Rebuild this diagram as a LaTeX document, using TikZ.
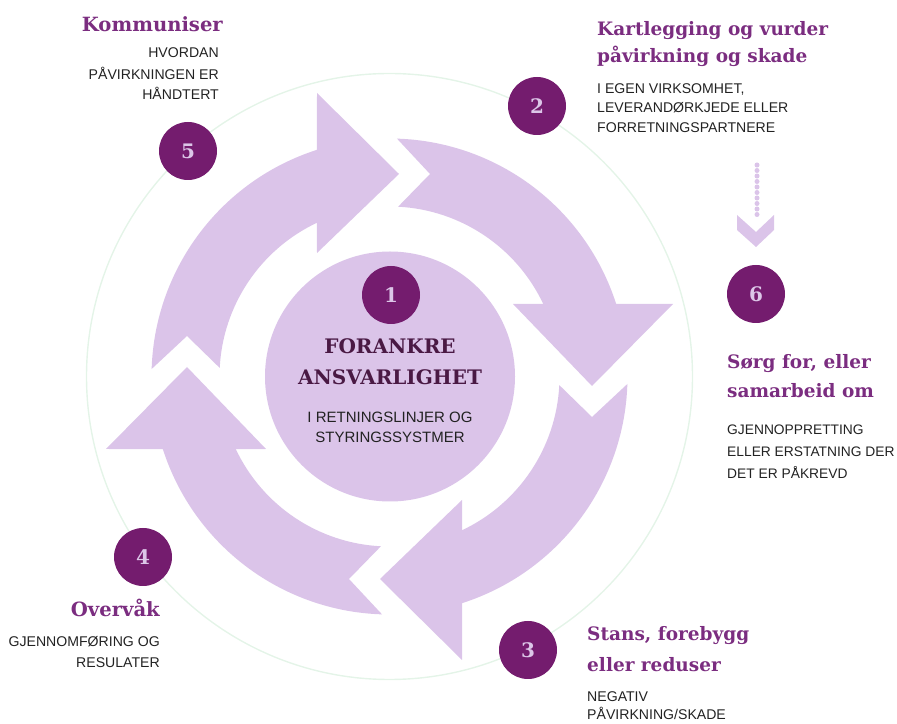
\documentclass[tikz,border=0pt]{standalone}
\usepackage{fontspec}
\setmainfont{DejaVu Serif}
\newfontfamily\capsfont{Liberation Sans}
\definecolor{arrowfill}{HTML}{DBC4E9}
\definecolor{numfill}{HTML}{741C6E}
\definecolor{numtext}{HTML}{DCC6E8}
\definecolor{ttlcol}{HTML}{7B2D80}
\definecolor{centcol}{HTML}{4A1944}
\definecolor{subcol}{HTML}{222222}
\definecolor{ringcol}{HTML}{E4F4E8}
\begin{document}
\begin{tikzpicture}[x=1pt,y=1pt,
  numc/.style={circle,fill=numfill,minimum size=58pt,inner sep=0pt,text=numtext,font=\bfseries\fontsize{20}{20}\selectfont},
  ttl/.style={inner sep=0pt,text=ttlcol,font=\bfseries\fontsize{18.5}{18.5}\selectfont},
  bigttl/.style={ttl,font=\bfseries\fontsize{19.6}{19.6}\selectfont},
  centttl/.style={inner sep=0pt,text=centcol,font=\bfseries\fontsize{20}{20}\selectfont},
  sub/.style={inner sep=0pt,text=subcol,font=\capsfont\fontsize{14.1}{14.1}\selectfont},
  narrowsub/.style={sub,font=\capsfont\fontsize{13.8}{13.8}\selectfont},
  centsub/.style={inner sep=0pt,text=subcol,font=\capsfont\fontsize{15}{15}\selectfont},
  arrowshape/.style={fill=arrowfill},
  dotline/.style={draw=arrowfill,line width=5pt,line cap=round,dash pattern=on 0pt off 5.5pt}]
\useasboundingbox (0,0) rectangle (897,723);
\coordinate (C) at (389.5,346.5);
% faint outer ring
\draw[ringcol,line width=1.4pt] (C) circle[radius=303];
% cycle arrows
\begin{scope}[shift={(C)}]
\foreach \r in {0,-90,-180,-270}{
  \fill[arrowshape,rotate=\r] (178.2:238) arc[start angle=178.2,end angle=107.75,radius=238]
    -- (-72.5,283.5) -- (9.5,202.5) -- (-72.5,123.5) -- (115.3:170)
    arc[start angle=115.3,end angle=177.1,radius=170] -- (-202.5,40.5) -- cycle;
}
\end{scope}
% centre disc
\node[circle,fill=arrowfill,minimum size=250pt,inner sep=0pt] (core) at (390,346.5) {};
% number circles
\node[numc] (n1) at (391,428) {1};
\node[numc] (n2) at (537,617) {2};
\node[numc] (n3) at (528,73) {3};
\node[numc] (n4) at (143,166) {4};
\node[numc] (n5) at (188,572) {5};
\node[numc] (n6) at (756,429) {6};
% centre text
\node[centttl,anchor=base] (c1) at (390,369) {FORANKRE};
\node[centttl,anchor=base] (c2) at (390,338) {ANSVARLIGHET};
\node[centsub,anchor=base] (c3) at (390,300) {I RETNINGSLINJER OG};
\node[centsub,anchor=base] (c4) at (390,280) {STYRINGSSYSTMER};
% 5
\node[bigttl,anchor=base east] (t5) at (223,691) {Kommuniser};
\node[sub,anchor=base east] (s5a) at (219,665) {HVORDAN};
\node[sub,anchor=base east] (s5b) at (219,643) {PÅVIRKNINGEN ER};
\node[sub,anchor=base east] (s5c) at (219,623) {HÅNDTERT};
% 2
\node[ttl,anchor=base west] (t2a) at (597,687) {Kartlegging og vurder};
\node[ttl,anchor=base west] (t2b) at (597,660) {påvirkning og skade};
\node[sub,anchor=base west] (s2a) at (597,629) {I EGEN VIRKSOMHET,};
\node[sub,anchor=base west] (s2b) at (597,610) {LEVERANDØRKJEDE ELLER};
\node[sub,anchor=base west] (s2c) at (597,590) {FORRETNINGSPARTNERE};
% 6
\node[ttl,anchor=base west] (t6a) at (727,354) {Sørg for, eller};
\node[ttl,anchor=base west] (t6b) at (727,325) {samarbeid om};
\node[narrowsub,anchor=base west] (s6a) at (727,288) {GJENNOPPRETTING};
\node[narrowsub,anchor=base west] (s6b) at (727,266) {ELLER ERSTATNING DER};
\node[narrowsub,anchor=base west] (s6c) at (727,244) {DET ER PÅKREVD};
% 4
\node[bigttl,anchor=base east] (t4) at (160,106) {Overvåk};
\node[sub,anchor=base east] (s4a) at (160,76) {GJENNOMFØRING OG};
\node[sub,anchor=base east] (s4b) at (160,56) {RESULATER};
% 3
\node[ttl,anchor=base west] (t3a) at (587,82) {Stans, forebygg};
\node[ttl,anchor=base west] (t3b) at (587,51) {eller reduser};
\node[sub,anchor=base west] (s3a) at (587,21) {NEGATIV};
\node[sub,anchor=base west] (s3b) at (587,3.5) {PÅVIRKNING/SKADE};
% dotted arrow towards 6
\coordinate (dtop) at (757,558);
\coordinate (dbot) at (757,504);
\draw[dotline] (dtop) -- (dbot);
\fill[arrowfill] (737,508) -- (737,493) -- (756,476) -- (774,493) -- (774,508) -- (756,491) -- cycle;
\end{tikzpicture}
\end{document}
